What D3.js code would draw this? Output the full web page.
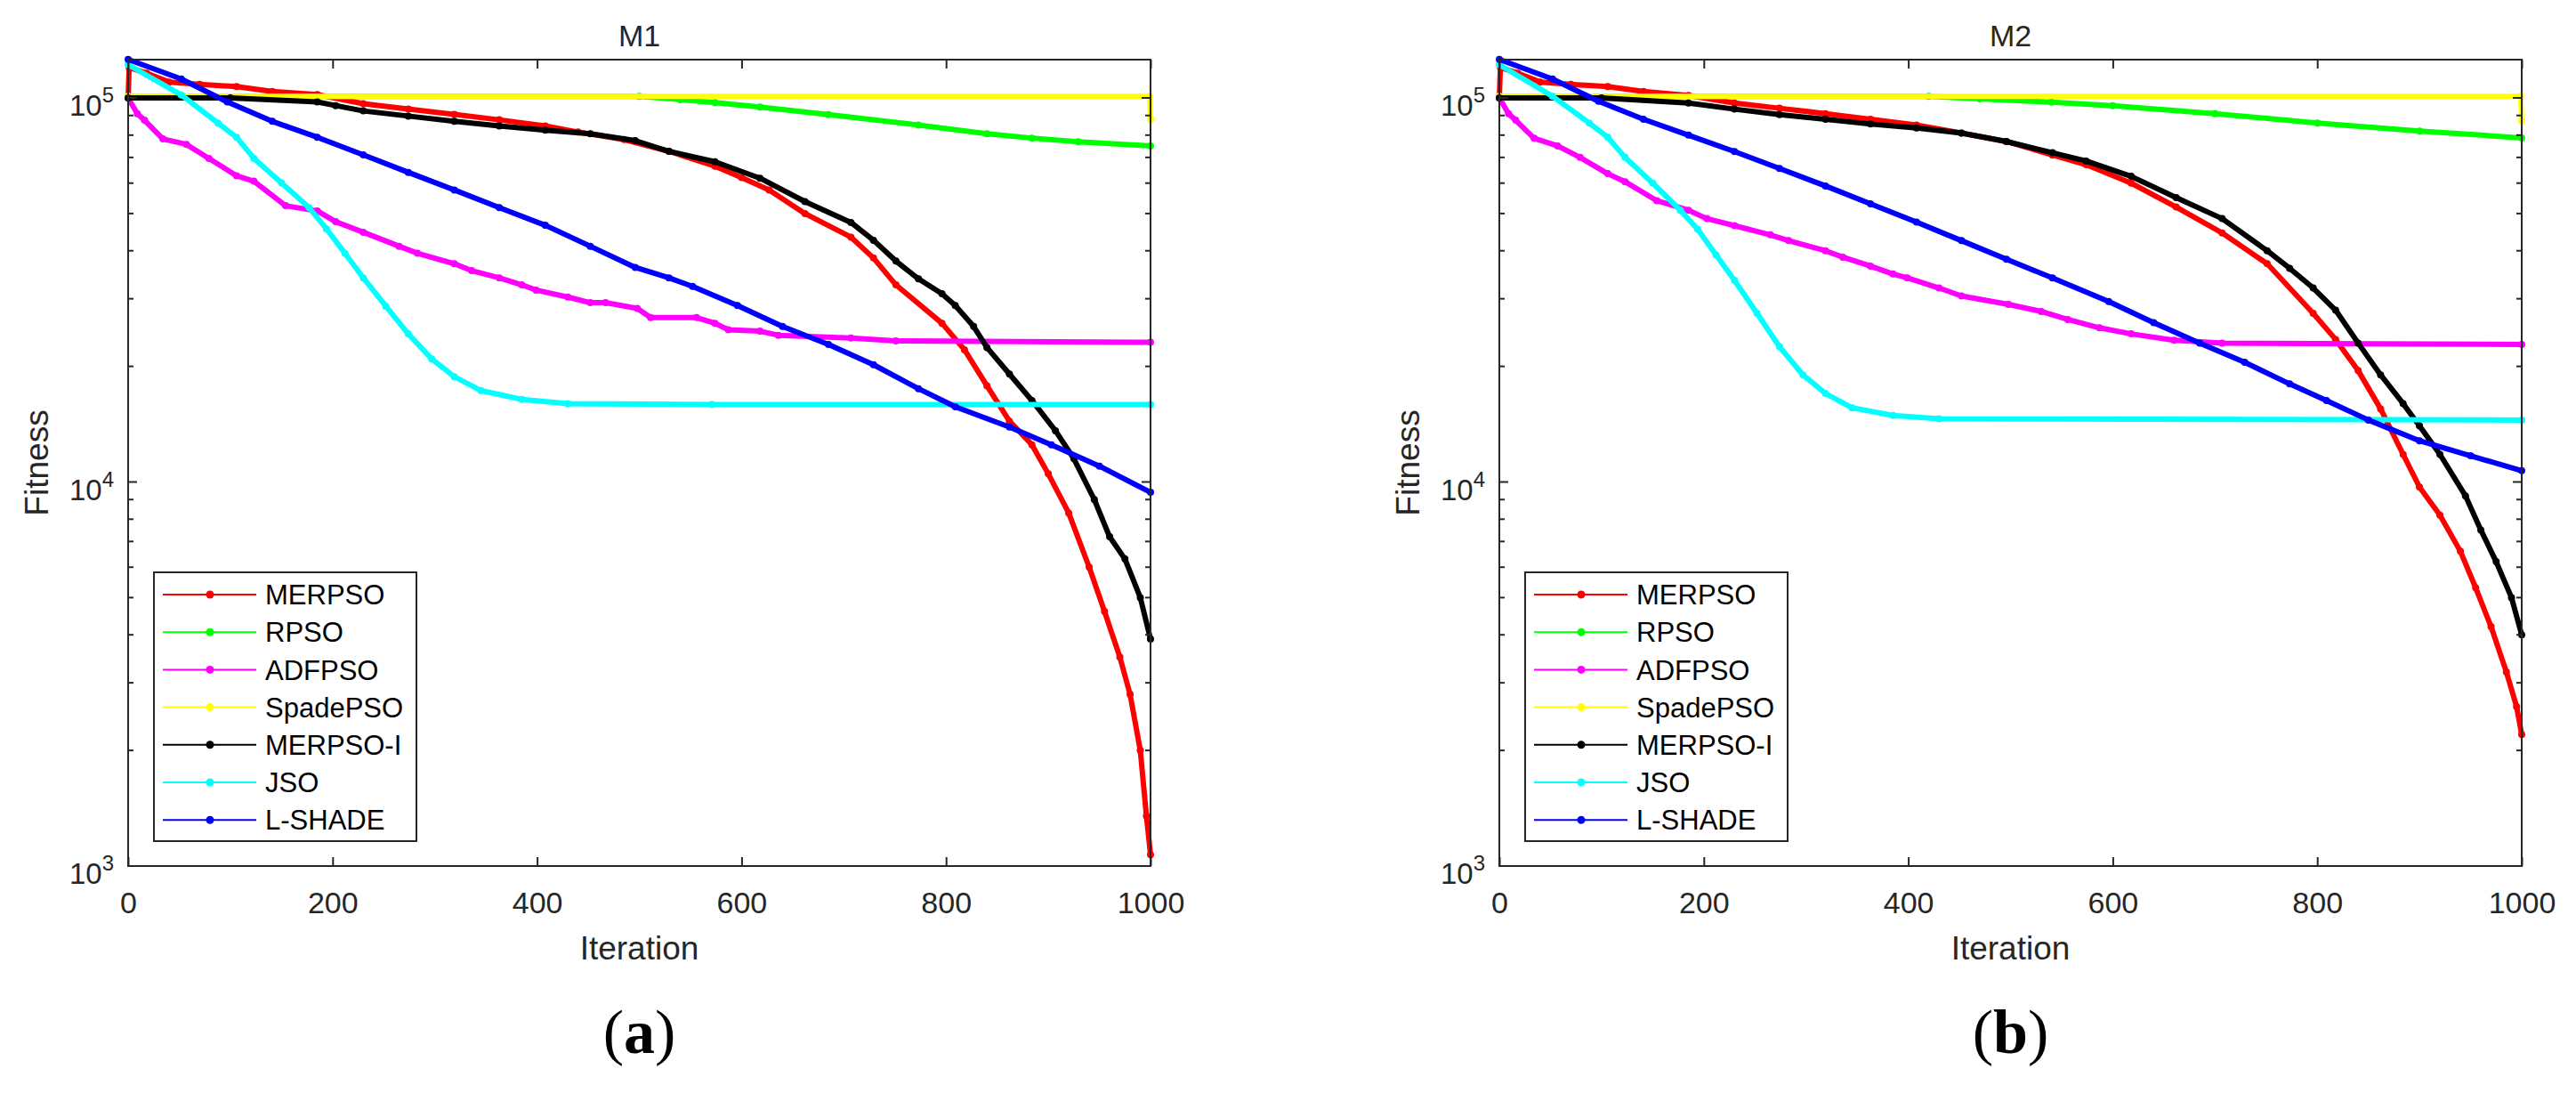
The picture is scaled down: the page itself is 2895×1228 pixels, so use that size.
<!DOCTYPE html>
<html>
<head>
<meta charset="utf-8">
<script src="https://cdn.jsdelivr.net/npm/d3@7"></script>
<style>
  body { margin: 0; background: #fff; }
  text { font-family: "Liberation Sans", Arial, sans-serif; fill: #262626; }
</style>
</head>
<body>
<svg id="chart" width="2895" height="1228"></svg>
<script>
// ---- data: [iteration, fitness] ----
var seriesNames = ['MERPSO', 'RPSO', 'ADFPSO', 'SpadePSO', 'MERPSO-I', 'JSO', 'L-SHADE'];
var seriesColors = ['#ff0000', '#00ff00', '#ff00ff', '#ffff00', '#000000', '#00ffff', '#0000ff'];
var xTicks = [0, 200, 400, 600, 800, 1000];
var yMajor = [3, 4, 5];
var panelTitles = ['M1', 'M2'];
var panelLetters = ['a', 'b'];

var m1Merpso = [[0,100000],[1,120000],[18,116000],[40,110000],[70,108500],[106,107000],[141,104000],[185,102000],[230,96600],[274,93600],[319,90600],[363,87700],[408,84500],[440,81500],[485,77900],[529,72600],[574,66400],[600,62000],[627,57600],[662,50000],[707,43400],[729,38300],[751,32600],[796,25900],[818,22100],[840,17800],[862,14400],[884,12500],[900,10500],[920,8300],[940,6000],[955,4600],[970,3500],[980,2800],[990,2000],[996,1350],[1000,1070]];
var m1Rpso = [[0,101000],[500,101000],[540,99000],[574,97300],[618,94700],[685,90500],[773,85000],[840,80700],[884,78600],[929,76900],[1000,75000]];
var m1Adfpso = [[0,100000],[9,91000],[16,87500],[34,78200],[57,75700],[79,69600],[106,62700],[123,60700],[154,52400],[185,50800],[203,47600],[230,44700],[265,41100],[283,39400],[319,37000],[336,35500],[363,34000],[385,32600],[399,31600],[430,30300],[452,29300],[467,29300],[498,28300],[511,26800],[556,26800],[574,25900],[587,24900],[618,24700],[636,24100],[707,23700],[751,23300],[1000,23100]];
var m1Spade = [[0,101000],[999,101000],[1000,88000]];
var m1MerpsoI = [[0,100000],[100,100000],[185,97600],[203,95500],[230,92500],[274,89700],[319,86900],[363,84500],[408,82400],[452,80700],[496,77400],[529,72600],[574,68200],[618,61800],[662,53700],[707,47400],[729,42600],[751,37600],[773,33800],[796,30900],[809,28800],[827,25400],[840,22400],[862,19100],[884,16300],[907,13600],[925,11500],[945,9000],[960,7200],[975,6300],[990,5000],[1000,3900]];
var m1Jso = [[0,122000],[52,101800],[88,85900],[106,79000],[123,69600],[150,60100],[177,51800],[194,45600],[212,39400],[230,34000],[252,28700],[274,24300],[297,20900],[319,18800],[345,17300],[385,16400],[430,16000],[571,15900],[1000,15900]];
var m1Lshade = [[0,126000],[52,112000],[97,97600],[141,86900],[185,79000],[230,71100],[274,64000],[319,57600],[363,51800],[408,46600],[452,41100],[496,36200],[529,34000],[552,32300],[596,28800],[640,25400],[685,22800],[729,20200],[773,17500],[809,15700],[862,13900],[903,12500],[950,11000],[1000,9400]];

var m2Merpso = [[0,100000],[1,120000],[18,116000],[40,110000],[70,108500],[106,107000],[141,104000],[185,101500],[230,97000],[274,94000],[319,91000],[363,88000],[408,85000],[452,81000],[496,77000],[541,71000],[574,67000],[618,60000],[662,52000],[707,44500],[751,37000],[796,27500],[818,23500],[840,19500],[862,15500],[884,11800],[900,9700],[920,8200],[940,6600],[955,5300],[970,4200],[985,3200],[995,2600],[1000,2200]];
var m2Rpso = [[0,101000],[420,101000],[470,99500],[540,97500],[600,95500],[700,91000],[800,86000],[900,82000],[1000,78700]];
var m2Adfpso = [[0,100000],[9,91000],[16,87500],[34,78500],[57,75000],[79,70000],[106,63500],[123,60500],[154,54000],[185,51000],[203,48500],[230,46500],[265,44000],[283,42500],[319,40000],[336,38500],[363,36500],[385,34800],[399,34000],[430,32000],[452,30500],[498,29000],[530,27800],[556,26500],[587,25200],[618,24300],[660,23400],[707,23000],[1000,22800]];
var m2Spade = [[0,101000],[999,101000],[1000,87000]];
var m2MerpsoI = [[0,100000],[100,100000],[185,97000],[230,93500],[274,90500],[319,88000],[363,85500],[408,83500],[452,81000],[496,77000],[541,72000],[574,68500],[618,62500],[662,55000],[707,48500],[751,40000],[773,36000],[796,32000],[818,28000],[840,23000],[862,19000],[884,16000],[900,14000],[920,11800],[945,9200],[960,7500],[975,6200],[990,5000],[1000,4000]];
var m2Jso = [[0,122000],[52,101000],[88,86000],[106,79000],[123,70000],[150,60000],[177,51000],[194,45500],[212,39000],[230,33500],[252,27500],[274,22500],[297,19000],[319,17000],[345,15600],[385,14900],[430,14600],[1000,14500]];
var m2Lshade = [[0,126000],[52,112000],[97,98000],[141,88000],[185,80000],[230,72500],[274,65500],[319,59000],[363,53000],[408,47500],[452,42500],[496,38000],[541,34000],[596,29500],[640,26000],[685,23000],[729,20500],[773,18000],[809,16300],[850,14500],[900,12800],[950,11700],[1000,10700]];

var panelData = [
  [m1Merpso, m1Rpso, m1Adfpso, m1Spade, m1MerpsoI, m1Jso, m1Lshade],
  [m2Merpso, m2Rpso, m2Adfpso, m2Spade, m2MerpsoI, m2Jso, m2Lshade]
];

var svg = d3.select('#chart'),
    axisColor = '#262626',
    panelLeft = [144, 1685],
    plotW = 1149,
    plotTop = 67,
    plotBottom = 973;

function drawPanel(p) {
  var left = panelLeft[p],
      g = svg.append('g').attr('transform', 'translate(' + left + ',0)'),
      x = d3.scaleLinear().domain([0, 1000]).range([0, plotW]),
      y = d3.scaleLog().domain([1000, 125800]).range([plotBottom, plotTop]);

  // curves
  var line = d3.line().x(function (d) { return x(d[0]); }).y(function (d) { return y(d[1]); });
  panelData[p].forEach(function (s, i) {
    g.append('path').datum(s)
      .attr('d', line)
      .attr('fill', 'none')
      .attr('stroke', seriesColors[i])
      .attr('stroke-width', 6)
      .attr('stroke-linejoin', 'round');
    g.append('g').selectAll('circle').data(s).enter().append('circle')
      .attr('cx', function (d) { return x(d[0]); })
      .attr('cy', function (d) { return y(d[1]); })
      .attr('r', 4)
      .attr('fill', seriesColors[i]);
  });

  // box
  g.append('rect').attr('x', 0).attr('y', plotTop).attr('width', plotW).attr('height', plotBottom - plotTop)
    .attr('fill', 'none').attr('stroke', axisColor).attr('stroke-width', 2);

  // x axes (ticks inward)
  var xb = g.append('g').attr('transform', 'translate(0,' + plotBottom + ')')
    .call(d3.axisBottom(x).tickValues(xTicks).tickSize(-10).tickPadding(29).tickFormat(d3.format('d')));
  var xt = g.append('g').attr('transform', 'translate(0,' + plotTop + ')')
    .call(d3.axisTop(x).tickValues(xTicks).tickSize(-10).tickFormat(''));
  [xb, xt].forEach(function (a) {
    a.select('.domain').remove();
    a.selectAll('line').attr('stroke', axisColor).attr('stroke-width', 2);
  });
  xb.selectAll('text').attr('font-size', 34).attr('fill', axisColor)
    .style('font-family', '"Liberation Sans", Arial, sans-serif');

  // y ticks, major and minor, on both sides
  var minor = [];
  yMajor.forEach(function (e) {
    for (var m = 2; m <= 9; m++) {
      var v = m * Math.pow(10, e);
      if (v < 125800) minor.push(v);
    }
  });
  var majorVals = yMajor.map(function (e) { return Math.pow(10, e); });
  [[0, 1], [plotW, -1]].forEach(function (side) {
    g.append('g').selectAll('line').data(majorVals).enter().append('line')
      .attr('x1', side[0]).attr('x2', side[0] + side[1] * 10)
      .attr('y1', function (d) { return y(d); }).attr('y2', function (d) { return y(d); })
      .attr('stroke', axisColor).attr('stroke-width', 2);
    g.append('g').selectAll('line').data(minor).enter().append('line')
      .attr('x1', side[0]).attr('x2', side[0] + side[1] * 6)
      .attr('y1', function (d) { return y(d); }).attr('y2', function (d) { return y(d); })
      .attr('stroke', axisColor).attr('stroke-width', 2);
  });

  // y tick labels 10^k
  var yl = g.append('g').selectAll('text').data(yMajor).enter().append('text')
    .attr('x', -16)
    .attr('y', function (d) { return y(Math.pow(10, d)) + 20; })
    .attr('text-anchor', 'end')
    .attr('font-size', 33);
  yl.append('tspan').text('10');
  yl.append('tspan').attr('dy', -15).attr('font-size', 24).text(function (d) { return d; });

  // titles and labels
  g.append('text').attr('x', plotW / 2).attr('y', 52).attr('text-anchor', 'middle')
    .attr('font-size', 34).text(panelTitles[p]);
  g.append('text').attr('x', plotW / 2).attr('y', 1078).attr('text-anchor', 'middle')
    .attr('font-size', 37).text('Iteration');
  g.append('text').attr('transform', 'translate(' + (54 - 144) + ',' + ((plotTop + plotBottom) / 2) + ') rotate(-90)')
    .attr('text-anchor', 'middle').attr('font-size', 37).text('Fitness');

  var lab = g.append('text').attr('x', plotW / 2).attr('y', 1183).attr('text-anchor', 'middle')
    .attr('font-size', 70).style('font-family', '"Liberation Serif", "DejaVu Serif", serif').style('fill', '#000');
  lab.append('tspan').text('(');
  lab.append('tspan').attr('font-weight', 'bold').text(panelLetters[p]);
  lab.append('tspan').text(')');

  // legend
  var lg = g.append('g').attr('transform', 'translate(29,643)');
  lg.append('rect').attr('width', 295).attr('height', 302)
    .attr('fill', '#fff').attr('stroke', axisColor).attr('stroke-width', 2);
  var item = lg.selectAll('g.item').data(seriesNames).enter().append('g')
    .attr('transform', function (d, i) { return 'translate(0,' + (25 + i * 42.2) + ')'; });
  item.append('line').attr('x1', 10).attr('x2', 115)
    .attr('stroke', function (d, i) { return seriesColors[i]; }).attr('stroke-width', 2);
  item.append('circle').attr('cx', 63).attr('r', 4.5)
    .attr('fill', function (d, i) { return seriesColors[i]; });
  item.append('text').attr('x', 125).attr('dy', '0.36em').attr('font-size', 31)
    .style('fill', '#000').text(function (d) { return d; });
}

drawPanel(0);
drawPanel(1);
</script>
</body>
</html>
